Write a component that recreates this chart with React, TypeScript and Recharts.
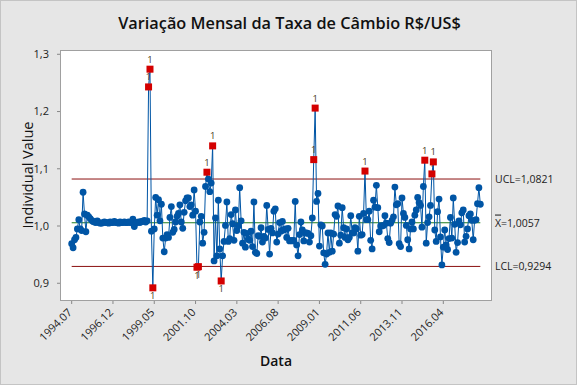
import React from 'react';
import { LineChart, Line, XAxis, YAxis, ReferenceLine, CartesianGrid } from 'recharts';

const START_YEAR = 1994;
const START_MONTH = 7;

// Monthly variation of the R$/US$ exchange rate (ratio to previous month), Jul 1994 - Jun 2018
const rates: number[] = [
  0.969, 0.962, 0.976, 0.980, 0.995, 1.011, 0.995, 0.992, 1.059, 1.021, 0.990, 1.019, 1.016, 1.013, 1.010, 1.008, 1.007, 1.006,
  1.009, 1.006, 1.005, 1.005, 1.006, 1.007, 1.006, 1.006, 1.005, 1.007, 1.006, 1.006,
  1.008, 1.006, 1.006, 1.005, 1.007, 1.006, 1.006, 1.007, 1.006, 1.006, 1.007, 1.006,
  1.006, 1.012, 0.999, 1.006, 1.006, 1.007, 1.006, 1.008, 1.008, 1.010, 1.007, 1.009,
  1.243, 1.274, 0.991, 0.892, 0.995, 1.050, 1.019, 1.046, 1.009, 1.038, 0.979, 0.955,
  0.979, 0.985, 0.980, 1.015, 1.034, 0.989, 0.994, 1.007, 1.017, 1.022, 1.037, 1.007,
  0.996, 1.024, 1.044, 1.049, 1.049, 1.034, 1.037, 1.019, 1.063, 1.026, 0.928, 0.929,
  1.007, 1.017, 0.970, 0.989, 1.069, 1.094, 1.082, 1.060, 1.075, 1.140, 0.939, 1.014,
  0.948, 1.045, 0.960, 0.904, 0.948, 0.973, 1.001, 1.042, 0.973, 0.978, 1.020, 1.004,
  0.975, 1.028, 0.992, 1.000, 1.067, 1.009, 0.970, 0.989, 0.963, 0.987, 0.977, 0.975,
  0.991, 0.964, 1.042, 0.954, 0.952, 0.983, 0.982, 0.997, 0.972, 0.982, 0.979, 1.036,
  0.994, 0.951, 0.996, 0.988, 1.026, 1.030, 0.972, 0.986, 1.006, 0.991, 1.008, 0.993,
  0.995, 0.980, 0.996, 0.974, 0.975, 0.974, 0.975, 1.043, 0.967, 0.948, 0.985, 1.007,
  0.993, 0.974, 0.988, 0.988, 0.987, 0.972, 0.983, 1.014, 1.116, 1.206, 1.043, 1.057,
  0.965, 1.002, 1.000, 0.953, 0.933, 0.951, 0.988, 0.954, 0.988, 0.956, 0.986, 1.020,
  1.017, 1.035, 0.970, 0.984, 1.032, 0.997, 0.980, 0.995, 0.976, 0.980, 1.018, 0.988,
  0.988, 0.997, 0.995, 0.956, 1.017, 0.984, 0.985, 1.022, 1.096, 1.011, 1.011, 1.026,
  0.975, 0.960, 1.045, 1.033, 1.071, 1.032, 0.990, 1.000, 1.000, 1.001, 1.018, 1.005,
  0.978, 0.971, 1.005, 1.010, 1.016, 1.068, 1.037, 1.039, 0.969, 0.964, 1.049, 1.022,
  1.015, 1.001, 0.976, 0.960, 0.995, 1.007, 0.995, 1.019, 1.028, 1.050, 1.041, 1.036,
  0.998, 1.069, 1.115, 0.970, 1.006, 1.016, 1.036, 1.091, 1.112, 0.993, 0.973, 1.025,
  1.047, 0.981, 0.932, 0.963, 0.993, 0.967, 0.959, 0.978, 1.015, 0.979, 1.049, 1.003,
  0.954, 0.971, 1.009, 1.002, 1.023, 1.028, 0.972, 0.982, 0.995, 1.018, 1.021, 1.010,
  0.976, 1.010, 1.011, 1.039, 1.067, 1.038,
];

const tickLabels = ['1994.07', '1996.12', '1999.05', '2001.10', '2004.03', '2006.08', '2009.01', '2011.06', '2013.11', '2016.04'];
const yTicks = [0.9, 1.0, 1.1, 1.2, 1.3];
const UCL = 1.0821;
const MEAN = 1.0057;
const LCL = 0.9294;

const months = rates.map((_, i) => {
  const m = START_MONTH - 1 + i;
  const y = START_YEAR + Math.floor(m / 12);
  return `${y}.${String((m % 12) + 1).padStart(2, '0')}`;
});
const data = rates.map((v, i) => ({ idx: i, value: v }));
const xTicks = tickLabels.map((l) => months.indexOf(l));

const FONT = '"Open Sans", "Noto Sans", sans-serif';
const BLUE = '#0055a5';
const RED = '#d40000';
const DARKRED = '#8b1010';
const GREEN = '#1e7b1e';

const Dot = (props: any) => {
  const { cx, cy, payload, index } = props;
  const v = payload.value;
  if (v > UCL || v < LCL) {
    const above = v > MEAN;
    return (
      <g key={`d${index}`}>
        <rect x={cx - 3.5} y={cy - 3.5} width={7} height={7} fill={RED} />
        <text x={cx} y={above ? cy - 6.5 : cy + 11.5} textAnchor="middle" fontSize={9.5} fontFamily={FONT} fill="#4a3a20">1</text>
      </g>
    );
  }
  return <circle key={`d${index}`} cx={cx} cy={cy} r={3.4} fill={BLUE} />;
};

const XTick = (props: any) => {
  const { x, y, payload } = props;
  const ax = x + 1;
  const ay = y + 7;
  return (
    <text x={ax} y={ay} textAnchor="end" transform={`rotate(-45, ${ax}, ${ay})`} fontSize={11} fontFamily={FONT} fill="#222">
      {months[payload.value]}
    </text>
  );
};

const RightLabel = (props: any) => {
  const { viewBox, text, bar } = props;
  const x = viewBox.x + viewBox.width + 3;
  const y = viewBox.y;
  return (
    <text x={x} y={y} dy="0.36em" fontSize={10.5} fontFamily={FONT} fill="#222">
      {bar ? <tspan textDecoration="overline">X</tspan> : null}
      {text}
    </text>
  );
};

export default function App() {
  const last = rates.length - 1;
  return (
    <div style={{ position: 'absolute', left: 0, top: 0, width: 577, height: 385, background: '#e6e6e6', boxSizing: 'border-box', border: '1px solid #c4c4c4', fontFamily: FONT }}>
      <div style={{ position: 'absolute', left: 0, top: 11, width: 577, textAlign: 'center', fontSize: 16.3, fontWeight: 600, color: '#111' }}>
        Variação Mensal da Taxa de Câmbio R$/US$
      </div>
      <div style={{ position: 'absolute', left: 0, top: 0 }}>
        <LineChart width={577} height={385} data={data} margin={{ top: 49, right: 86, bottom: 0, left: 0 }}>
          <CartesianGrid horizontal={false} vertical={false} fill="#ffffff" stroke="none" />
          <XAxis
            dataKey="idx"
            type="number"
            domain={[-8.2, 295.2]}
            ticks={xTicks}
            allowDataOverflow
            height={85}
            axisLine={false}
            tickLine={{ stroke: '#888' }}
            tickSize={3}
            tickMargin={2}
            tick={<XTick />}
            interval={0}
          />
          <YAxis
            type="number"
            domain={[0.869, 1.3075]}
            ticks={yTicks}
            allowDataOverflow
            width={59}
            axisLine={false}
            tickLine={{ stroke: '#888' }}
            tickSize={3}
            tickMargin={8}
            tick={{ fontSize: 11, fill: '#222', fontFamily: FONT }}
            tickFormatter={(v: number) => v.toFixed(1).replace('.', ',')}
          />
          <ReferenceLine segment={[{ x: 0, y: UCL }, { x: last, y: UCL }]} stroke={DARKRED} strokeWidth={1} />
          <ReferenceLine segment={[{ x: 0, y: MEAN }, { x: last, y: MEAN }]} stroke={GREEN} strokeWidth={1} />
          <ReferenceLine segment={[{ x: 0, y: LCL }, { x: last, y: LCL }]} stroke={DARKRED} strokeWidth={1} />
          <ReferenceLine y={UCL} strokeOpacity={0} label={<RightLabel text="UCL=1,0821" />} />
          <ReferenceLine y={MEAN} strokeOpacity={0} label={<RightLabel bar text="=1,0057" />} />
          <ReferenceLine y={LCL} strokeOpacity={0} label={<RightLabel text="LCL=0,9294" />} />
          <Line type="linear" dataKey="value" stroke={BLUE} strokeWidth={1} dot={(p: any) => <Dot {...p} key={`dd${p.index}`} />} activeDot={false} isAnimationActive={false} />
        </LineChart>
      </div>
      <div style={{ position: 'absolute', left: 59, top: 49, width: 432, height: 251, boxSizing: 'border-box', border: '1px solid #a0a0a0', pointerEvents: 'none' }} />
      <div style={{ position: 'absolute', left: 26, top: 174, transform: 'translate(-50%, -50%) rotate(-90deg)', whiteSpace: 'nowrap', fontSize: 14.5, color: '#111' }}>
        Individual Value
      </div>
      <div style={{ position: 'absolute', left: 275, top: 359, transform: 'translate(-50%, -50%)', whiteSpace: 'nowrap', fontSize: 14, fontWeight: 600, color: '#111' }}>
        Data
      </div>
    </div>
  );
}
